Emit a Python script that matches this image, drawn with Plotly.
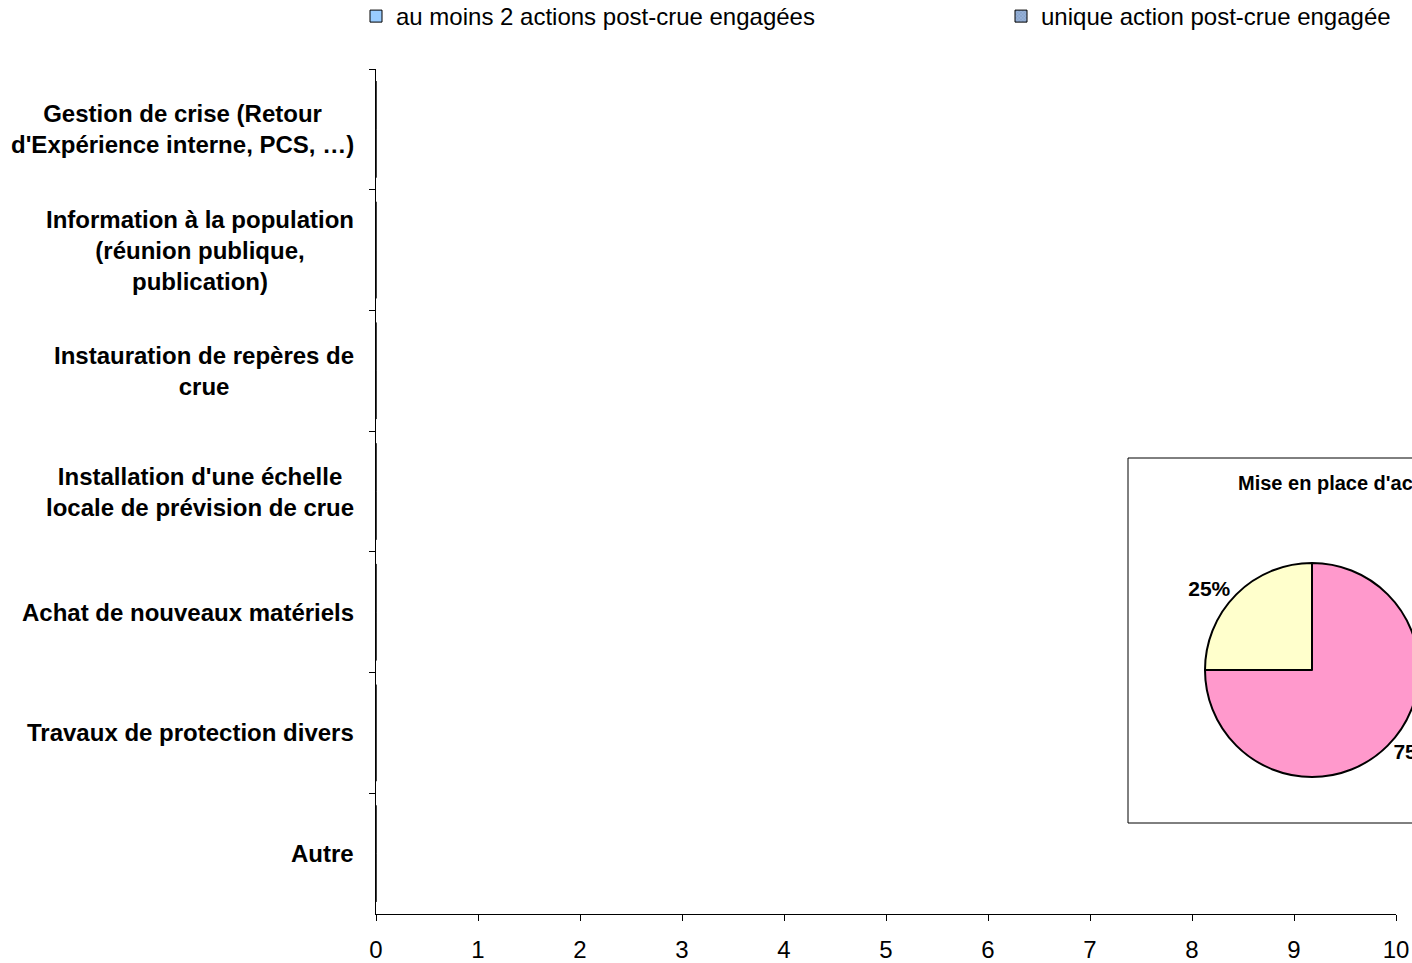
import plotly.graph_objects as go

categories = [
    "Gestion de crise (Retour<br>d'Expérience interne, PCS, …)",
    "Information à la population<br>(réunion publique,<br>publication)",
    "Instauration de repères de<br>crue",
    "Installation d'une échelle<br>locale de prévision de crue",
    "Achat de nouveaux matériels",
    "Travaux de protection divers",
    "Autre",
]
series_multi = [0, 0, 0, 0, 0, 0, 0]
series_single = [0, 0, 0, 0, 0, 0, 0]
series_names = ["au moins 2 actions post-crue engagées", "unique action post-crue engagée"]

pie_labels = ["Oui", "Non"]
pie_values = [25, 75]
pie_title = "Mise en place d'actions post-crue"

x_ticks = list(range(0, 11))

W, H = 1700, 963
L, T = 376, 69
PH = 914 - 69
B = H - T - PH
PW = W - L


def px_x(p):
    return (p - L) / PW


def px_y(p):
    return (T + PH - p) / PH


FONT = "Liberation Sans, Arial, sans-serif"

fig = go.Figure()
fig.add_trace(go.Bar(
    y=categories, x=series_multi, orientation="h", name=series_names[0],
    marker=dict(color="#99CCFF", line=dict(color="black", width=1)),
    xaxis="x", yaxis="y",
))
fig.add_trace(go.Bar(
    y=categories, x=series_single, orientation="h", name=series_names[1],
    marker=dict(color="#7F9FCC", line=dict(color="black", width=1),
                pattern=dict(shape="x", size=3, fgcolor="#4A6E9E", bgcolor="#99B3D9", solidity=0.3)),
    xaxis="x", yaxis="y",
))
fig.add_trace(go.Pie(
    labels=pie_labels, values=pie_values, sort=False, direction="clockwise",
    rotation=-90, automargin=False,
    marker=dict(colors=["#FFFFCC", "#FF99CC"], line=dict(color="black", width=2)),
    textinfo="percent", textposition="outside",
    textfont=dict(family=FONT, size=21, color="black", weight="bold"),
    domain=dict(x=[px_x(1205), px_x(1419)], y=[px_y(777), px_y(563)]),
    showlegend=False, hoverinfo="skip",
))

annotations = []
for c in categories:
    annotations.append(dict(
        x=px_x(356), xref="paper", y=c, yref="y", text="<b>" + c + "</b>",
        xanchor="right", yanchor="middle", align="center", showarrow=False,
        font=dict(family=FONT, size=24, color="black"),
    ))
annotations.append(dict(
    x=px_x(1236), xref="paper", y=px_y(483), yref="paper", text="<b>" + pie_title + "</b>",
    xanchor="left", yanchor="middle", showarrow=False,
    font=dict(family=FONT, size=20, color="black"),
))

fig.update_layout(
    width=W, height=H, autosize=False,
    margin=dict(l=L, r=0, t=T, b=B, autoexpand=False),
    paper_bgcolor="white", plot_bgcolor="white",
    barmode="group",
    font=dict(family=FONT, size=24, color="black"),
    xaxis=dict(domain=[0, 1020 / PW], range=[0, 10], tickvals=x_ticks, ticks="outside", ticklen=6,
               tickcolor="black", showline=True, linecolor="black", linewidth=1,
               showgrid=False, zeroline=False, tickfont=dict(size=24), ticklabelstandoff=8,
               automargin=False, fixedrange=True),
    yaxis=dict(autorange="reversed", showticklabels=False, ticks="outside", ticklen=6,
               tickson="boundaries", tickcolor="black", showline=True, linecolor="black",
               linewidth=1, showgrid=False, zeroline=False, automargin=False, fixedrange=True),
    legend=dict(orientation="h", x=px_x(356), xanchor="left", y=px_y(-6), yanchor="top",
                entrywidth=600, entrywidthmode="pixels", font=dict(size=24),
                bgcolor="rgba(0,0,0,0)"),
    shapes=[dict(type="rect", xref="paper", yref="paper",
                 x0=px_x(1128), x1=1.0, y0=px_y(823), y1=px_y(458),
                 line=dict(color="black", width=1), fillcolor="rgba(0,0,0,0)", layer="below")],
    annotations=annotations,
)

fig.write_html(
    "out.html",
    post_script="document.body.style.margin='0';document.body.style.overflow='hidden';",
)
